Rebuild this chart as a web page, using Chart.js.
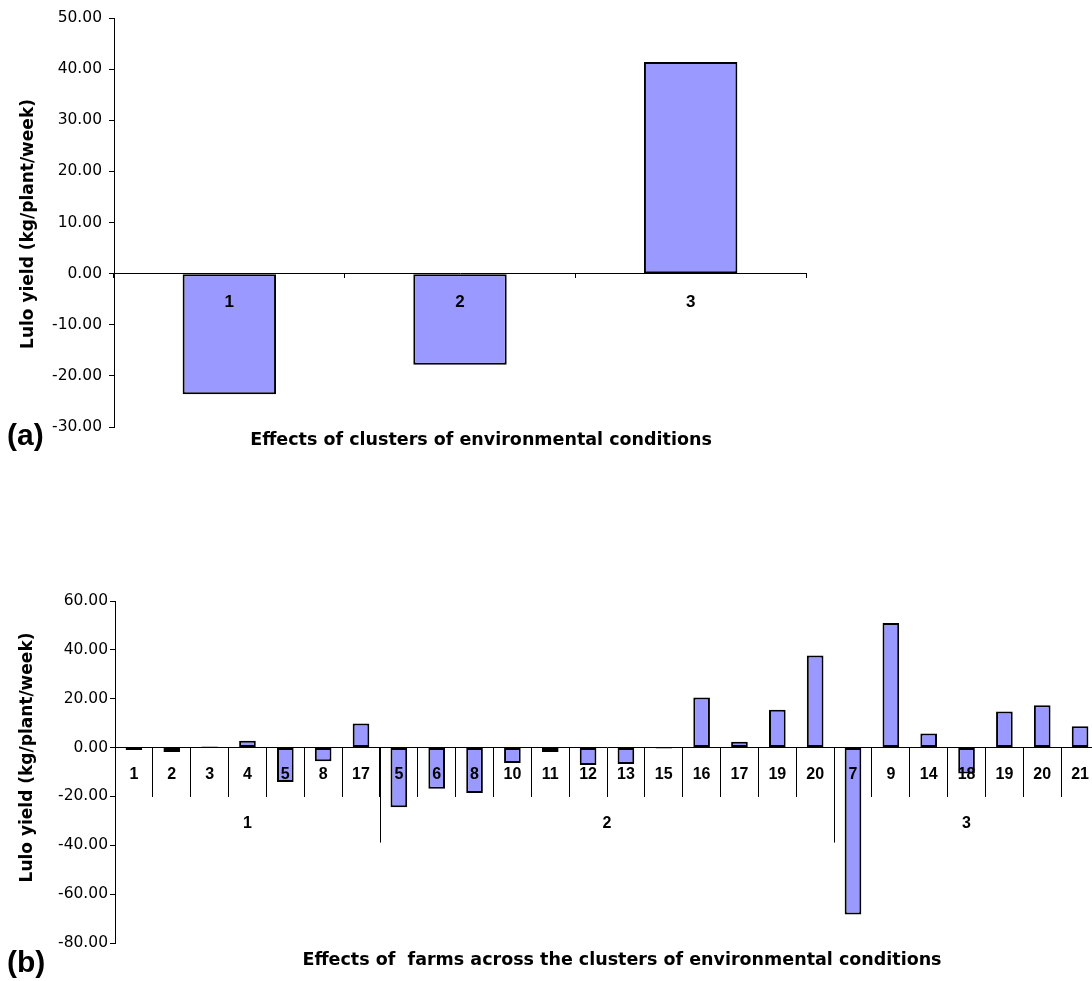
<!DOCTYPE html>
<html>
<head>
<meta charset="utf-8">
<script src="https://cdn.jsdelivr.net/npm/chart.js@4/dist/chart.umd.min.js"></script>
<style>
  html, body { margin: 0; padding: 0; background: #fff; overflow: hidden; width: 1092px; height: 981px; }
  #chartA { position: absolute; left: 0; top: 0; }
  #chartB { position: absolute; left: 0; top: 560px; }
</style>
</head>
<body>
<canvas id="chartA" width="1092" height="460"></canvas>
<canvas id="chartB" width="1120" height="421"></canvas>
<script>
// (a) effects of the environmental clusters
const clusterLabels = ['1', '2', '3'];
const clusterEffects = [-23.6, -17.8, 41.4];

// (b) farm effects, grouped by cluster
const farmLabels = ['1', '2', '3', '4', '5', '8', '17',
  '5', '6', '8', '10', '11', '12', '13', '15', '16', '17', '19', '20',
  '7', '9', '14', '18', '19', '20', '21'];
const farmEffects = [-1.0, -1.8, 0.4, 2.8, -14.1, -5.6, 9.9,
  -24.4, -16.9, -18.6, -6.3, -1.8, -7.1, -6.7, -0.4, 20.5, 2.4, 15.5, 37.7,
  -68.3, 51.0, 5.8, -10.6, 14.8, 17.3, 8.7];
const farmGroups = ['1', '2', '3'];
const farmGroupSizes = [7, 12, 7];

const FONT = "'Liberation Sans', Arial, Helvetica, sans-serif";
const WIDE = "'DejaVu Sans', Verdana, sans-serif";
const BAR_FILL = '#9999ff';
const INK = '#000000';

// free text: axis titles and panel letters
function textPlugin(id, items) {
  return {
    id,
    afterDraw(chart) {
      const ctx = chart.ctx;
      items.forEach(t => {
        ctx.save();
        ctx.font = t.font;
        ctx.fillStyle = INK;
        ctx.textAlign = t.align || 'center';
        ctx.textBaseline = 'middle';
        ctx.translate(t.x, t.y);
        if (t.rotate) ctx.rotate(t.rotate);
        ctx.fillText(t.text, 0, 0);
        ctx.restore();
      });
    }
  };
}

// cluster grouping under the farm axis
const groupPlugin = {
  id: 'farmGroups',
  afterDraw(chart) {
    const xs = chart.scales.x, ys = chart.scales.y;
    const y0 = ys.getPixelForValue(0);
    const ctx = chart.ctx;
    ctx.save();
    ctx.strokeStyle = INK;
    ctx.lineWidth = 1;
    ctx.fillStyle = INK;
    ctx.font = 'bold 16px ' + FONT;
    ctx.textAlign = 'center';
    ctx.textBaseline = 'middle';
    let start = 0;
    farmGroupSizes.forEach((n, g) => {
      const end = start + n;
      const left = xs.getPixelForValue(start - 0.5);
      const right = xs.getPixelForValue(end - 0.5);
      if (g > 0) {
        const xl = Math.round(left) + 0.5;
        ctx.beginPath();
        ctx.moveTo(xl, y0);
        ctx.lineTo(xl, y0 + 95);
        ctx.stroke();
      }
      ctx.fillText(farmGroups[g], (left + right) / 2, y0 + 76);
      start = end;
    });
    ctx.restore();
  }
};

function yAxis(min, max, step, width, pad) {
  return {
    type: 'linear',
    min, max,
    ticks: {
      stepSize: step,
      color: INK,
      padding: pad,
      font: { family: WIDE, size: 15.5 },
      callback: v => v.toFixed(2)
    },
    grid: { drawOnChartArea: false, drawTicks: true, tickLength: 5, color: INK, lineWidth: 1 },
    border: { display: true, color: INK, width: 1 },
    afterFit(s) { s.width = width; }
  };
}

function xAxis(tickLen, pad, size) {
  return {
    type: 'category',
    position: { y: 0 },
    offset: true,
    grid: { display: true, offset: true, drawOnChartArea: false, drawTicks: true, tickLength: tickLen, color: INK, lineWidth: 1 },
    border: { display: true, color: INK, width: 1 },
    ticks: {
      z: 1,
      color: INK,
      autoSkip: false,
      maxRotation: 0,
      padding: pad,
      font: { family: FONT, size: size, weight: 'bold' }
    }
  };
}

new Chart(document.getElementById('chartA'), {
  type: 'bar',
  data: {
    labels: clusterLabels,
    datasets: [{
      data: clusterEffects,
      backgroundColor: BAR_FILL,
      borderColor: INK,
      borderWidth: 2,
      borderSkipped: false,
      barPercentage: 0.405,
      categoryPercentage: 1
    }]
  },
  options: {
    responsive: false,
    animation: false,
    layout: { padding: { left: 0, top: 18, right: 286, bottom: 33 } },
    plugins: { legend: { display: false }, tooltip: { enabled: false }, title: { display: false } },
    scales: {
      x: xAxis(4, 14, 17),
      y: yAxis(-30, 50, 10, 114, 7)
    }
  },
  plugins: [textPlugin('textA', [
    { text: 'Lulo yield (kg/plant/week)', x: 29, y: 224, rotate: -Math.PI / 2, font: 'bold 17px ' + WIDE },
    { text: 'Effects of clusters of environmental conditions', x: 481, y: 440, font: 'bold 17.5px ' + WIDE },
    { text: '(a)', x: 7, y: 437, align: 'left', font: 'bold 30px ' + FONT }
  ])]
});

new Chart(document.getElementById('chartB'), {
  type: 'bar',
  data: {
    labels: farmLabels,
    datasets: [{
      data: farmEffects,
      backgroundColor: BAR_FILL,
      borderColor: INK,
      borderWidth: 2,
      borderSkipped: false,
      barPercentage: 0.44,
      categoryPercentage: 1
    }]
  },
  options: {
    responsive: false,
    animation: false,
    layout: { padding: { left: 0, top: 41, right: 21, bottom: 38 } },
    plugins: { legend: { display: false }, tooltip: { enabled: false }, title: { display: false } },
    scales: {
      x: xAxis(49, -32, 16),
      y: yAxis(-80, 60, 20, 115, 2)
    }
  },
  plugins: [groupPlugin, textPlugin('textB', [
    { text: 'Lulo yield (kg/plant/week)', x: 28, y: 197.5, rotate: -Math.PI / 2, font: 'bold 17px ' + WIDE },
    { text: 'Effects of  farms across the clusters of environmental conditions', x: 622, y: 400, font: 'bold 17.5px ' + WIDE },
    { text: '(b)', x: 7, y: 404, align: 'left', font: 'bold 30px ' + FONT }
  ])]
});
</script>
</body>
</html>
